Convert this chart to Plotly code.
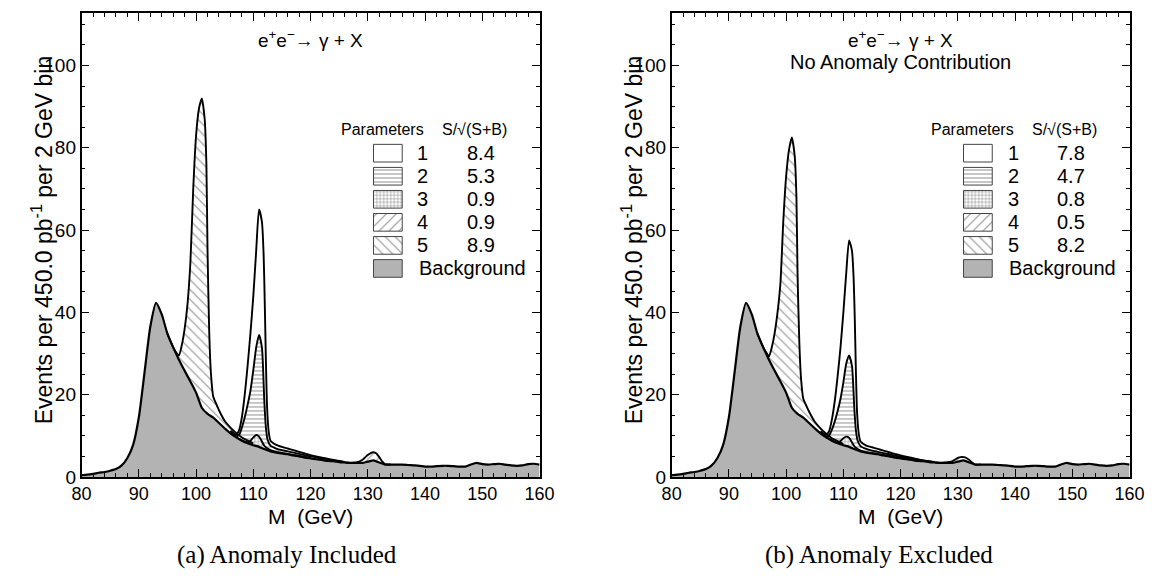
import plotly.graph_objects as go

W, H = 1163, 578

# ---------------- data ----------------
mass = list(range(80, 161))
background = [0.4, 0.55, 0.75, 1.0, 1.2, 1.5, 1.9, 2.8, 4.6, 7.8,
              14.5, 25.5, 36.5, 42.3, 39.5, 34.8, 31.5, 28.5, 25.8, 23.2,
              20.5, 16.8, 15.3, 14.4, 13.1, 11.8, 10.6, 9.6, 8.8, 8.2,
              7.7, 7.3, 6.7, 6.2, 5.9, 5.7, 5.5, 5.2, 5.0, 4.7,
              4.5, 4.3, 4.1, 3.9, 3.8, 3.6, 3.5, 3.4, 3.4, 3.4,
              3.7, 4.0, 3.5, 3.0, 3.0, 3.0, 3.0, 2.9, 2.8, 2.7,
              2.5, 2.5, 2.6, 2.7, 2.7, 2.6, 2.5, 2.5, 3.0, 3.4,
              3.1, 3.0, 3.1, 3.2, 3.0, 2.8, 2.7, 2.8, 3.1, 3.2,
              3.0]

# parameter set 5 (peak near 101 GeV)
p5_mass = [95, 96, 96.5, 97, 97.5, 98, 98.5, 99, 99.5, 100, 100.5, 101, 101.5,
           101.8, 102, 102.3, 102.6, 103, 103.5, 104, 105, 106, 107, 108, 109, 110]
p5_incl = [34.8, 31.5, 30.3, 29.5, 32, 36, 42, 52, 70, 83, 89.5, 92, 87,
           76, 55, 35, 25, 19.5, 17.8, 16.2, 13.6, 12.0, 10.7, 9.6, 8.8, 8.1]
p5_excl = [34.8, 31.5, 30.3, 29.3, 31.5, 35, 40, 47, 62, 73, 79.5, 82.5, 78,
           68, 49, 33, 24, 19, 17.4, 15.9, 13.4, 11.8, 10.5, 9.4, 8.7, 8.0]

# parameter set 1 (peak near 111 GeV)
p1_mass = [106, 107, 107.5, 108, 108.5, 109, 109.5, 110, 110.5, 111, 111.5, 111.8,
           112, 112.2, 112.4, 112.7, 113, 114, 115, 116, 117, 118, 119, 120, 122, 124, 126]
p1_incl = [11.2, 10.3, 11.3, 14.5, 20, 27, 35, 44, 55, 65, 62, 54,
           42, 28, 17, 10.8, 8.8, 7.8, 7.3, 6.9, 6.5, 6.1, 5.7, 5.3, 4.7, 4.1, 3.6]
p1_excl = [11.1, 10.2, 11.1, 14, 18.5, 24.5, 31.5, 40, 49.5, 57.5, 55, 48,
           38, 25, 15.5, 10.4, 8.6, 7.6, 7.2, 6.8, 6.4, 6.0, 5.6, 5.2, 4.6, 4.0, 3.6]

# parameter set 2
p2_mass = [106, 107, 107.5, 108, 108.5, 109, 109.5, 110, 110.5, 111, 111.5, 111.7,
           111.9, 112.2, 112.5, 113, 114, 115, 116, 118, 120, 122, 124, 126]
p2_incl = [10.9, 9.9, 10.2, 12, 14.5, 17.5, 21, 26, 31.5, 34.5, 31.5, 26.5,
           19, 12, 9, 7.6, 6.9, 6.5, 6.2, 5.6, 5.0, 4.5, 4.0, 3.6]
p2_excl = [10.8, 9.8, 10.1, 11.5, 13.5, 16, 19, 23, 27.5, 29.5, 27, 23,
           17, 11.2, 8.8, 7.5, 6.8, 6.4, 6.1, 5.5, 4.9, 4.4, 3.95, 3.6]

# parameter set 3
p3_mass = [107, 108, 109, 109.5, 110, 110.5, 111, 111.5, 112, 113, 114, 116, 118, 120]
p3_incl = [9.7, 8.9, 8.4, 8.8, 9.6, 10.2, 9.8, 8.6, 7.4, 6.5, 6.1, 5.6, 5.1, 4.6]
p3_excl = [9.7, 8.9, 8.3, 8.7, 9.4, 9.8, 9.5, 8.4, 7.3, 6.4, 6.0, 5.6, 5.1, 4.6]

# parameter set 4 (bump near 131 GeV)
p4_mass = [126, 127, 128, 129, 129.5, 130, 130.5, 131, 131.5, 132, 132.5, 133, 134]
p4_incl = [3.5, 3.4, 3.5, 4.1, 4.7, 5.3, 5.8, 6.0, 5.7, 4.8, 3.8, 3.1, 3.0]
p4_excl = [3.5, 3.4, 3.5, 3.8, 4.2, 4.6, 4.8, 4.8, 4.6, 4.1, 3.5, 3.05, 3.0]

param_labels = ["1", "2", "3", "4", "5"]
signif_incl = ["8.4", "5.3", "0.9", "0.9", "8.9"]
signif_excl = ["7.8", "4.7", "0.8", "0.5", "8.2"]

x_ticks = [80, 90, 100, 110, 120, 130, 140, 150, 160]
y_ticks = [0, 20, 40, 60, 80, 100]

# ---------------- styles ----------------
GRAY = "#b3b3b3"
LINE = "black"
styles = {
    "1": dict(fillcolor="white"),
    "2": dict(fillcolor="white", fillpattern=dict(shape="-", size=4, solidity=0.25,
                                                  fgcolor="#1a1a1a", bgcolor="white")),
    "3": dict(fillcolor="white", fillpattern=dict(shape="+", size=3.5, solidity=0.3,
                                                  fgcolor="#1a1a1a", bgcolor="white")),
    "4": dict(fillcolor="white", fillpattern=dict(shape="/", size=7, solidity=0.16,
                                                  fgcolor="#222", bgcolor="white")),
    "5": dict(fillcolor="white", fillpattern=dict(shape="\\", size=7, solidity=0.16,
                                                  fgcolor="#222", bgcolor="white")),
    "bg": dict(fillcolor=GRAY),
}

FONT = "Liberation Sans, Arial, Helvetica, sans-serif"
SERIF = "Liberation Serif, Times New Roman, serif"

# frames (pixels)
FRAME_TOP, FRAME_BOT = 5, 478
frames = [(65, 533), (668, 1136)]

panels = [
    dict(xa="x", ya="y", curves=[("5", p5_mass, p5_incl), ("1", p1_mass, p1_incl),
                                 ("2", p2_mass, p2_incl), ("3", p3_mass, p3_incl),
                                 ("4", p4_mass, p4_incl)],
         signif=signif_incl, frame=frames[0], caption="(a) Anomaly Included", capfrac=0.4495,
         subtitle=None),
    dict(xa="x2", ya="y2", curves=[("5", p5_mass, p5_excl), ("1", p1_mass, p1_excl),
                                   ("2", p2_mass, p2_excl), ("3", p3_mass, p3_excl),
                                   ("4", p4_mass, p4_excl)],
         signif=signif_excl, frame=frames[1], caption="(b) Anomaly Excluded", capfrac=0.4536,
         subtitle="No Anomaly Contribution"),
]

fig = go.Figure()

for pan in panels:
    xa, ya = pan["xa"], pan["ya"]
    for key, mx, vals in pan["curves"]:
        fig.add_trace(go.Scatter(x=mx, y=vals, xaxis=xa, yaxis=ya, mode="none",
                                 fill="tozeroy", line_shape="spline",
                                 showlegend=False, hoverinfo="skip", **styles[key]))
    fig.add_trace(go.Scatter(x=mass, y=background, xaxis=xa, yaxis=ya, mode="none",
                             fill="tozeroy", line_shape="spline",
                             showlegend=False, hoverinfo="skip", **styles["bg"]))
    for key, mx, vals in pan["curves"]:
        fig.add_trace(go.Scatter(x=mx, y=vals, xaxis=xa, yaxis=ya, mode="lines",
                                 line=dict(color=LINE, width=1.9, shape="spline", smoothing=0.6),
                                 showlegend=False, hoverinfo="skip"))
    fig.add_trace(go.Scatter(x=mass, y=background, xaxis=xa, yaxis=ya, mode="lines",
                             line=dict(color=LINE, width=2.2, shape="spline", smoothing=0.6),
                             showlegend=False, hoverinfo="skip"))

# ---------------- legend (overlay axis in pixel units) ----------------
row_y = [148, 171.5, 195, 218.5, 242, 265.5]
box_h = 18
annotations = []


def ann(text, x, y, size, xanchor="center", font=FONT, angle=0):
    annotations.append(dict(text=text, x=x / W, y=1 - y / H, xref="paper", yref="paper",
                            showarrow=False, xanchor=xanchor, yanchor="middle",
                            textangle=angle, font=dict(family=font, size=size, color="black")))


for pan in panels:
    f0, f1 = pan["frame"]
    fw = f1 - f0

    def fpx(frac):
        return f0 + frac * fw

    keys = param_labels + ["bg"]
    for i, key in enumerate(keys):
        x0, x1 = fpx(0.6374), fpx(0.7001)
        y0, y1 = row_y[i] - box_h / 2, row_y[i] + box_h / 2
        fig.add_trace(go.Scatter(x=[x0, x1, x1, x0, x0], y=[y0, y0, y1, y1, y0],
                                 xaxis="x3", yaxis="y3", mode="lines", fill="toself",
                                 line=dict(color="#444", width=1),
                                 showlegend=False, hoverinfo="skip", **styles[key]))
    ann("Parameters", fpx(0.6562), 124, 16)
    ann("S/√(S+B)", fpx(0.8587), 124, 16)
    for i, lab in enumerate(param_labels):
        ann(lab, fpx(0.7455), row_y[i], 20)
        ann(pan["signif"][i], fpx(0.8724), row_y[i], 20)
    ann("Background", fpx(0.7369) - 2, row_y[5], 20, xanchor="left")
    ann("e<sup>+</sup>e<sup>−</sup>→ γ + X", fpx(0.5), 32, 19)
    if pan["subtitle"]:
        ann(pan["subtitle"], fpx(0.5), 55, 20)
    ann("Events per 450.0 pb<sup>-1</sup> per 2 GeV bin", fpx(-0.087), 236, 23, angle=-90)
    ann("M  (GeV)", fpx(0.5), 518, 21)
    ann(pan["caption"], fpx(pan["capfrac"]), 558, 25, font=SERIF)

# ---------------- axes ----------------
ydom = [1 - FRAME_BOT / H, 1 - FRAME_TOP / H]

xaxis_common = dict(range=[80, 160], tickvals=x_ticks, ticks="inside", ticklen=8,
                    tickwidth=1.2, tickcolor="black", showline=True, linecolor="black",
                    linewidth=1.6, mirror="allticks", showgrid=False, zeroline=False,
                    tickfont=dict(family=FONT, size=18, color="black"),
                    minor=dict(dtick=2, tick0=80, ticks="inside", ticklen=4,
                               tickcolor="black", tickwidth=1, showgrid=False))
yaxis_common = dict(range=[0, 112.8], tickvals=y_ticks, ticks="inside", ticklen=8,
                    tickwidth=1.2, tickcolor="black", showline=True, linecolor="black",
                    linewidth=1.6, mirror="allticks", showgrid=False, zeroline=False,
                    tickfont=dict(family=FONT, size=19, color="black"),
                    minor=dict(dtick=5, tick0=0, ticks="inside", ticklen=4,
                               tickcolor="black", tickwidth=1, showgrid=False))

fig.update_layout(
    width=W, height=H,
    margin=dict(l=0, r=0, t=0, b=0),
    paper_bgcolor="white", plot_bgcolor="rgba(0,0,0,0)",
    showlegend=False,
    xaxis=dict(domain=[frames[0][0] / W, frames[0][1] / W], anchor="y", **xaxis_common),
    yaxis=dict(domain=ydom, anchor="x", **yaxis_common),
    xaxis2=dict(domain=[frames[1][0] / W, frames[1][1] / W], anchor="y2", **xaxis_common),
    yaxis2=dict(domain=ydom, anchor="x2", **yaxis_common),
    xaxis3=dict(domain=[0, 1], anchor="y3", range=[0, W], visible=False, fixedrange=True,
                showticklabels=False),
    yaxis3=dict(domain=[0, 1], anchor="x3", range=[H, 0], visible=False, fixedrange=True,
                showticklabels=False),
    annotations=annotations,
)

fig.write_html("out.html")
